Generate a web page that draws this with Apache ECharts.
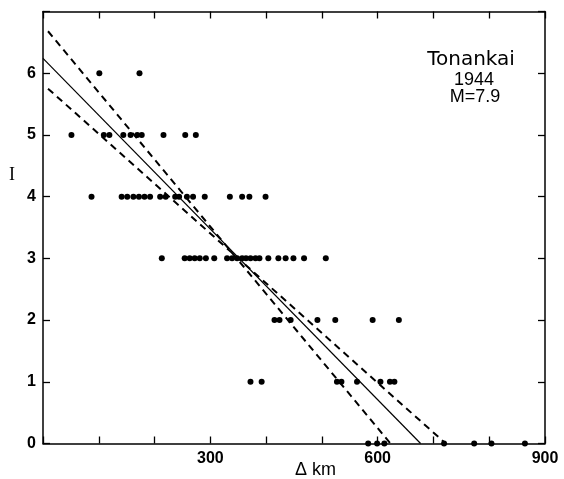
<!DOCTYPE html>
<html>
<head>
<meta charset="utf-8">
<script src="https://cdn.jsdelivr.net/npm/echarts@6/dist/echarts.min.js"></script>
<style>
  html, body { margin: 0; padding: 0; background: #fff; }
  #chart { width: 564px; height: 479px; }
</style>
</head>
<body>
<div id="chart"></div>
<script>
// distances (km) of the observation points, one list per intensity level
const distI6 = [101, 173];
const distI5 = [51, 109, 119, 144, 157, 169, 177, 216, 255, 274];
const distI4 = [87, 141, 151, 162, 172, 182, 192, 210, 220, 237, 244, 258, 269, 290, 335, 357, 370, 399];
const distI3 = [213, 254, 263, 272, 281, 292, 307, 330, 339, 348, 357, 364, 372, 381, 388, 404, 422, 435, 449, 468, 507];
const distI2 = [415, 424, 444, 492, 524, 591, 638];
const distI1 = [372, 392, 527, 535, 563, 605, 622, 630];
const distI0 = [583, 599, 612, 719, 773, 804, 864];

// fitted line and the two dashed bounds, as [km, I]
const fitLine = [[0, 6.24], [677, 0]];
const boundSteep = [[9, 6.68], [623, 0]];
const boundShallow = [[9, 5.75], [722, 0]];

const xTickLabels = [300, 600, 900];
const yTickLabels = [0, 1, 2, 3, 4, 5, 6];

const rows = [distI0, distI1, distI2, distI3, distI4, distI5, distI6];
let points = [];
rows.forEach((list, level) => {
  list.forEach((d) => points.push([d, level]));
});

const black = "#000";
// fresh objects per axis, onZero off so the mirrored axes stay on the frame
const line = () => ({ onZero: false, lineStyle: { color: black, width: 1.5 } });
const tick = () => ({ show: true, inside: true, length: 7, lineStyle: { color: black, width: 1.3 } });
const labelFont = { color: black, fontSize: 16, fontWeight: "bold", fontFamily: "Liberation Sans, Arial, sans-serif" };

const chart = echarts.init(document.getElementById("chart"));
chart.setOption({
  animation: false,
  grid: { left: 43, right: 19, top: 11.5, bottom: 35.5 },
  xAxis: [
    {
      type: "value", min: 0, max: 900, interval: 100, position: "bottom",
      axisLine: line(), axisTick: tick(), splitLine: { show: false },
      axisLabel: Object.assign({
        margin: 7,
        showMinLabel: true, showMaxLabel: true,
        formatter: (v) => (xTickLabels.includes(v) ? String(v) : ""),
      }, labelFont),
    },
    {
      type: "value", min: 0, max: 900, interval: 100, position: "top",
      axisLine: line(), axisTick: tick(), splitLine: { show: false },
      axisLabel: { show: false },
    },
  ],
  yAxis: [
    {
      type: "value", min: 0, max: 7, interval: 1, position: "left",
      axisLine: line(), axisTick: tick(), splitLine: { show: false },
      axisLabel: Object.assign({
        margin: 7,
        formatter: (v) => (yTickLabels.includes(v) ? String(v) : ""),
      }, labelFont),
    },
    {
      type: "value", min: 0, max: 7, interval: 1, position: "right",
      axisLine: line(), axisTick: tick(), splitLine: { show: false },
      axisLabel: { show: false },
    },
  ],
  graphic: [
    { type: "text", left: 9, top: 166, style: { text: "I", fill: black, font: "18px 'Liberation Serif', serif" } },
    { type: "text", left: 295, top: 461, style: { text: "Δ km", fill: black, font: "18px 'Liberation Sans', Arial, sans-serif" } },
    { type: "text", x: 471, y: 60, style: { text: "Tonankai", fill: black, align: "center", verticalAlign: "middle", font: "20px 'DejaVu Sans', sans-serif" } },
    { type: "text", x: 474, y: 80, style: { text: "1944", fill: black, align: "center", verticalAlign: "middle", font: "18px 'Liberation Sans', Arial, sans-serif" } },
    { type: "text", x: 475, y: 97.5, style: { text: "M=7.9", fill: black, align: "center", verticalAlign: "middle", font: "18px 'Liberation Sans', Arial, sans-serif" } },
  ],
  series: [
    {
      type: "scatter", data: points, symbol: "circle", symbolSize: 6,
      itemStyle: { color: black, opacity: 1 }, silent: true,
    },
    {
      type: "line", data: fitLine, symbol: "none", silent: true,
      lineStyle: { color: black, width: 1.2 },
    },
    {
      type: "line", data: boundSteep, symbol: "none", silent: true,
      lineStyle: { color: black, width: 2, type: [7, 5] },
    },
    {
      type: "line", data: boundShallow, symbol: "none", silent: true,
      lineStyle: { color: black, width: 2, type: [7, 5] },
    },
  ],
});
</script>
</body>
</html>
